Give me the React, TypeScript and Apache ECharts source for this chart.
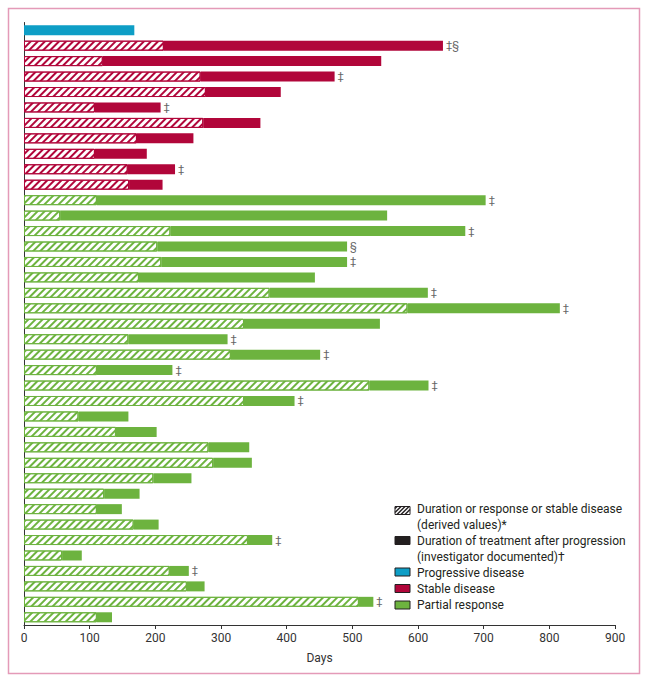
import React, { useEffect, useRef } from "react";
import * as echarts from "echarts";

const categories = [
  "P1", "P2", "P3", "P4", "P5", "P6", "P7", "P8", "P9", "P10",
  "P11", "P12", "P13", "P14", "P15", "P16", "P17", "P18", "P19", "P20",
  "P21", "P22", "P23", "P24", "P25", "P26", "P27", "P28", "P29", "P30",
  "P31", "P32", "P33", "P34", "P35", "P36", "P37", "P38", "P39",
];

// best response per patient
const response = [
  "PD",
  "SD", "SD", "SD", "SD", "SD", "SD", "SD", "SD", "SD", "SD",
  "PR", "PR", "PR", "PR", "PR", "PR", "PR", "PR", "PR", "PR",
  "PR", "PR", "PR", "PR", "PR", "PR", "PR", "PR", "PR", "PR",
  "PR", "PR", "PR", "PR", "PR", "PR", "PR", "PR",
];

// end of derived duration of response / stable disease (hatched part), days
const derivedDays = [
  0,
  213, 120, 269, 277, 108, 273, 172, 108, 158, 160,
  111, 55, 223, 203, 209, 175, 374, 584, 335, 159,
  315, 111, 526, 335, 83, 140, 281, 288, 197, 122,
  111, 167, 341, 58, 222, 248, 510, 111,
];

// total time on treatment, days
const totalDays = [
  168,
  638, 544, 473, 391, 208, 360, 258, 187, 230, 211,
  703, 553, 672, 492, 492, 443, 615, 816, 542, 310,
  451, 226, 616, 412, 159, 202, 343, 347, 255, 176,
  149, 205, 378, 88, 251, 275, 532, 134,
];

// footnote marks at the end of each bar
const marks = [
  "",
  "‡§", "", "‡", "", "‡", "", "", "", "‡", "",
  "‡", "", "‡", "§", "‡", "", "‡", "‡", "", "‡",
  "‡", "‡", "‡", "‡", "", "", "", "", "", "",
  "", "", "‡", "", "‡", "", "‡", "",
];

const xTicks = { min: 0, max: 900, interval: 100 };

const legendItems = [
  "Duration or response or stable disease",
  "(derived values)*",
  "Duration of treatment after progression",
  "(investigator documented)†",
  "Progressive disease",
  "Stable disease",
  "Partial response",
];

const BLUE = "#0e9ec6";
const RED = "#b1063a";
const GREEN = "#6db33f";
const FONT = "Roboto, 'Liberation Sans', sans-serif";

function hatchDecal(color: string) {
  return {
    symbol: "rect",
    symbolSize: 1,
    dashArrayX: [1, 0],
    dashArrayY: [2, 2.5],
    rotation: -Math.PI / 4,
    color,
  };
}

export default function App() {
  const ref = useRef<HTMLDivElement>(null);

  useEffect(() => {
    if (!ref.current) return;
    const chart = echarts.init(ref.current, undefined, { renderer: "svg" });

    const pick = (type: string, f: (i: number) => number) =>
      categories.map((_, i) => (response[i] === type ? f(i) : null));

    const pdData = pick("PD", (i) => totalDays[i]);
    const sdHatch = pick("SD", (i) => derivedDays[i]);
    const sdSolid = pick("SD", (i) => totalDays[i] - derivedDays[i]);
    const prHatch = pick("PR", (i) => derivedDays[i]);
    const prSolid = pick("PR", (i) => totalDays[i] - derivedDays[i]);

    const markLabel = {
      show: true,
      position: "right",
      distance: 3,
      color: "#666",
      fontSize: 11,
      fontFamily: FONT,
      formatter: (p: any) => marks[p.dataIndex] || "",
    };

    // legend graphics
    const iconX = 395;
    const iconW = 15;
    const iconH = 8;
    const textX = 417;
    const textYs = [509, 525, 541, 557, 572.5, 588.5, 605];
    const iconYs = [510.5, 540.5, 572, 588.5, 605];
    const iconFills = ["#fff", "#231f20", BLUE, RED, GREEN];

    const graphics: any[] = [
      {
        type: "rect",
        shape: { x: 8.5, y: 8.5, width: 631, height: 665 },
        style: { fill: "none", stroke: "#e49ab8", lineWidth: 1.5 },
        silent: true,
      },
    ];
    iconFills.forEach((fill, k) => {
      const y0 = iconYs[k] - iconH / 2;
      graphics.push({
        type: "rect",
        shape: { x: iconX, y: y0, width: iconW, height: iconH },
        style: { fill, stroke: "#231f20", lineWidth: 1 },
        silent: true,
      });
      if (k === 0) {
        for (let c = -6; c <= 12; c += 4) {
          let x1 = iconX + c;
          let y1 = y0 + iconH;
          let x2 = iconX + c + iconH;
          let y2 = y0;
          if (x1 < iconX) {
            y1 = y0 + iconH - (iconX - x1);
            x1 = iconX;
          }
          if (x2 > iconX + iconW) {
            y2 = y0 + (x2 - (iconX + iconW));
            x2 = iconX + iconW;
          }
          graphics.push({
            type: "line",
            shape: { x1, y1, x2, y2 },
            style: { stroke: "#231f20", lineWidth: 1.4 },
            silent: true,
          });
        }
      }
    });
    legendItems.forEach((t, k) => {
      graphics.push({
        type: "text",
        x: textX,
        y: textYs[k],
        style: {
          text: t,
          fill: "#231f20",
          font: `12px ${FONT}`,
          verticalAlign: "middle",
          align: "left",
        },
        silent: true,
      });
    });

    chart.setOption({
      animation: false,
      grid: { left: 24, right: 34, top: 22.5, bottom: 59, containLabel: false },
      xAxis: {
        type: "value",
        min: xTicks.min,
        max: xTicks.max,
        interval: xTicks.interval,
        axisLine: { show: true, lineStyle: { color: "#333", width: 1 } },
        axisTick: { show: true, length: 4, lineStyle: { color: "#333" } },
        splitLine: { show: false },
        axisLabel: { color: "#333", fontSize: 12, fontFamily: FONT, margin: 7 },
        name: "Days",
        nameLocation: "middle",
        nameGap: 27,
        nameTextStyle: { color: "#333", fontSize: 12, fontFamily: FONT },
      },
      yAxis: {
        type: "category",
        data: categories,
        inverse: true,
        axisLine: { show: true, lineStyle: { color: "#333", width: 1 } },
        axisTick: { show: false },
        axisLabel: { show: false },
        splitLine: { show: false },
      },
      series: [
        {
          name: "Progressive disease",
          type: "bar",
          stack: "t",
          barWidth: 10,
          data: pdData,
          itemStyle: { color: BLUE },
          label: markLabel,
        },
        {
          name: "SD derived",
          type: "bar",
          stack: "t",
          barWidth: 10,
          data: sdHatch,
          itemStyle: { color: "#fff", borderColor: RED, borderWidth: 1, decal: hatchDecal(RED) },
        },
        {
          name: "Stable disease",
          type: "bar",
          stack: "t",
          barWidth: 10,
          data: sdSolid,
          itemStyle: { color: RED },
          label: markLabel,
        },
        {
          name: "PR derived",
          type: "bar",
          stack: "t",
          barWidth: 10,
          data: prHatch,
          itemStyle: { color: "#fff", borderColor: GREEN, borderWidth: 1, decal: hatchDecal(GREEN) },
        },
        {
          name: "Partial response",
          type: "bar",
          stack: "t",
          barWidth: 10,
          data: prSolid,
          itemStyle: { color: GREEN },
          label: markLabel,
        },
      ],
      graphic: graphics,
    });

    return () => chart.dispose();
  }, []);

  return (
    <div
      ref={ref}
      style={{ position: "absolute", left: 0, top: 0, width: 649, height: 684, background: "#fff" }}
    />
  );
}
